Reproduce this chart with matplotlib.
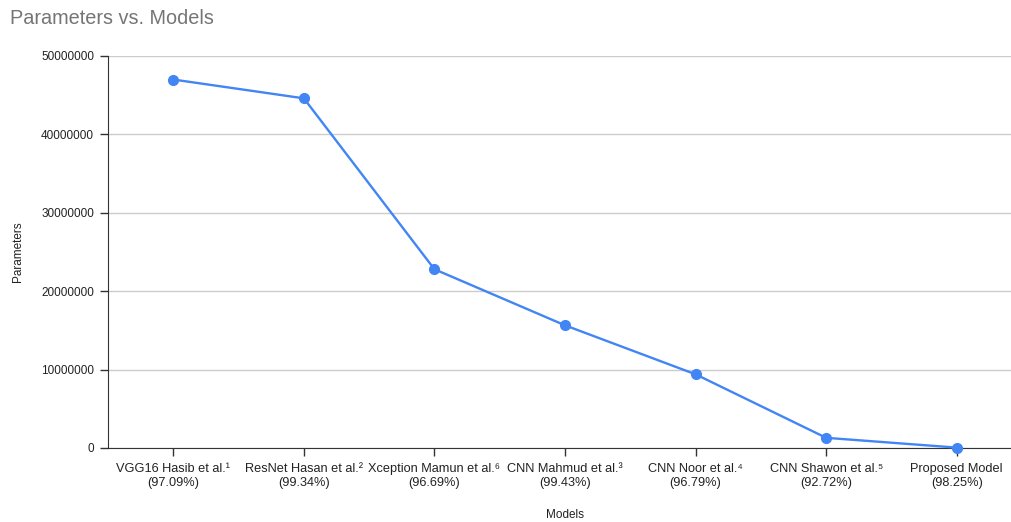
import matplotlib
matplotlib.use("Agg")
from matplotlib import pyplot as plt

plt.rcParams['font.family'] = ['Liberation Sans', 'DejaVu Sans']

models = ["VGG16 Hasib et al.¹", "ResNet Hasan et al.²", "Xception Mamun et al.⁶",
          "CNN Mahmud et al.³", "CNN Noor et al.⁴", "CNN Shawon et al.⁵", "Proposed Model"]
accuracy = ["97.09%", "99.34%", "96.69%", "99.43%", "96.79%", "92.72%", "98.25%"]
params = [47000000, 44600000, 22800000, 15650000, 9400000, 1300000, 50000]
yticks = [0, 10000000, 20000000, 30000000, 40000000, 50000000]

labels = [m + "\n(" + a + ")" for m, a in zip(models, accuracy)]
x = list(range(len(models)))

fig = plt.figure(figsize=(10.11, 5.22), dpi=100)
ax = fig.add_axes([108 / 1011, 74 / 522, 914 / 1011, 392 / 522])

ax.plot(x, params, color='#4285F4', linewidth=1.7, marker='o', markersize=7, zorder=3, clip_on=False)

ax.set_xlim(-0.5, 6.5)
ax.set_ylim(0, 50000000)
ax.set_yticks(yticks)
ax.set_yticklabels([str(v) for v in yticks])
ax.set_xticks(x)
ax.set_xticklabels(labels, linespacing=1.15, fontsize=9.2)

ax.grid(axis='y', color='#cccccc', linewidth=1)
ax.set_axisbelow(True)
for s in ['top', 'right']:
    ax.spines[s].set_visible(False)
ax.spines['left'].set_color('#333333')
ax.spines['bottom'].set_color('#333333')
ax.tick_params(axis='both', colors='#333333', labelcolor='#222222', length=6, width=1)
ax.tick_params(axis='y', labelsize=8.5, pad=4)
ax.tick_params(axis='x', pad=5)

ax.set_xlabel("Models", fontsize=8.5, color='#222222', labelpad=15)
ax.set_ylabel("Parameters", fontsize=8.5, color='#222222', labelpad=12)
fig.text(10 / 1011, 1 - 18 / 522, "Parameters vs. Models", fontsize=14.3, color='#757575', va='center', ha='left')

fig.savefig("out.png", dpi=100, facecolor='white')
